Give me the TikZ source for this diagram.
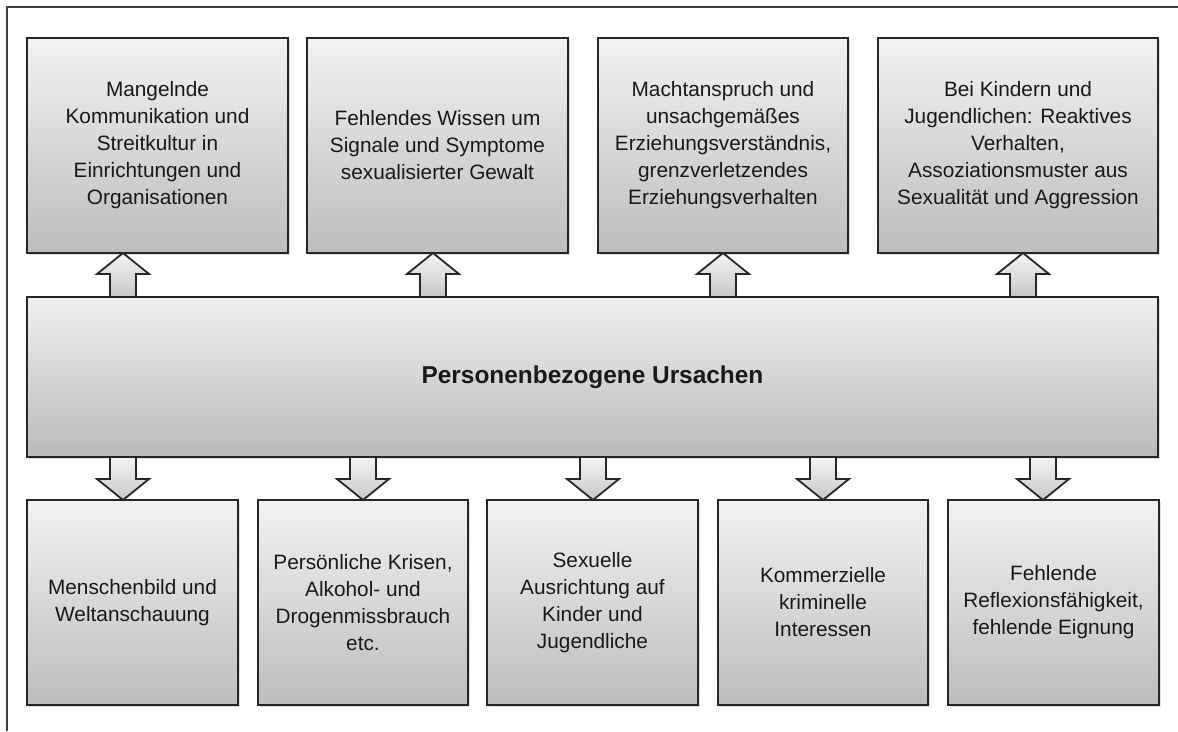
\documentclass[tikz,border=0pt]{standalone}
\usepackage{fontspec}
\setmainfont{Liberation Sans}
\usepackage{tikz}
\usetikzlibrary{calc,shadows}

% Blockpfeile zwischen den Kaesten (x-Position, von, nach)
\newcommand{\pfeilauf}[3]{%
	\draw[pfeil] let \p1=(#2.north), \p2=(#3.south) in
		(#1pt-13pt,\y1) -- (#1pt-13pt,\y2-21pt) -- (#1pt-26pt,\y2-21pt) -- (#1pt,\y2)
		-- (#1pt+26pt,\y2-21pt) -- (#1pt+13pt,\y2-21pt) -- (#1pt+13pt,\y1) -- cycle;}
\newcommand{\pfeilab}[3]{%
	\draw[pfeil] let \p1=(#2.south), \p2=(#3.north) in
		(#1pt-13pt,\y1) -- (#1pt-13pt,\y2+21pt) -- (#1pt-26pt,\y2+21pt) -- (#1pt,\y2)
		-- (#1pt+26pt,\y2+21pt) -- (#1pt+13pt,\y2+21pt) -- (#1pt+13pt,\y1) -- cycle;}

\begin{document}
\begin{tikzpicture}[
	x=1pt, y=-1pt,
	font=\fontsize{20.8}{27}\selectfont,
	kasten/.style={rectangle, draw=black!85, line width=1.8pt, top color=black!5, bottom color=black!26, text=black!90, outer sep=0pt, inner sep=4pt, align=center, anchor=north west, drop shadow={shadow xshift=2pt, shadow yshift=-2pt, opacity=0.25}},
	oben/.style={kasten, minimum height=215pt},
	unten/.style={kasten, minimum height=205pt},
	pfeil/.style={draw=black!85, line width=1.8pt, top color=black!4, bottom color=black!22, line join=miter},
	rahmen/.style={draw=black!75, line width=1.6pt},
]
\useasboundingbox (0,0) rectangle (1178,731);
\draw[rahmen] (7,731) -- (7,7) -- (1178,7);

% obere Reihe
\node[oben, minimum width=261pt] (kommunikation) at (27,38) {Mangelnde\\Kommunikation und\\Streitkultur in\\Einrichtungen und\\Organisationen};
\node[oben, minimum width=261pt] (wissen) at (307,38) {Fehlendes Wissen um\\Signale und Symptome\\sexualisierter Gewalt};
\node[oben, minimum width=250pt] (macht) at (598,38) {Machtanspruch und\\unsachgemäßes\\Erziehungsverständnis,\\grenzverletzendes\\Erziehungsverhalten};
\node[oben, minimum width=280pt] (kinder) at (878,38) {Bei Kindern und\\Jugendlichen: Reaktives\\Verhalten,\\Assoziationsmuster aus\\Sexualität und Aggression};

% Mitte
\node[kasten, minimum width=1131pt, minimum height=160pt, top color=black!6, bottom color=black!27, font=\fontsize{24.4}{29}\selectfont\bfseries] (ursachen) at (27,297) {Personenbezogene Ursachen};

% untere Reihe
\node[unten, minimum width=211pt] (menschenbild) at (27,500) {Menschenbild und\\Weltanschauung};
\node[unten, minimum width=210pt] (krisen) at (258,500) {Persönliche Krisen,\\Alkohol- und\\Drogenmissbrauch\\etc.};
\node[unten, minimum width=211pt] (ausrichtung) at (487,500) {Sexuelle\\Ausrichtung auf\\Kinder und\\Jugendliche};
\node[unten, minimum width=210pt] (kommerz) at (718,500) {Kommerzielle\\kriminelle\\Interessen};
\node[unten, minimum width=211pt] (reflexion) at (948,500) {Fehlende\\Reflexionsfähigkeit,\\fehlende Eignung};

\pfeilauf{123}{ursachen}{kommunikation}
\pfeilauf{433}{ursachen}{wissen}
\pfeilauf{723}{ursachen}{macht}
\pfeilauf{1023}{ursachen}{kinder}

\pfeilab{123}{ursachen}{menschenbild}
\pfeilab{363}{ursachen}{krisen}
\pfeilab{593}{ursachen}{ausrichtung}
\pfeilab{823}{ursachen}{kommerz}
\pfeilab{1043}{ursachen}{reflexion}
\end{tikzpicture}
\end{document}
